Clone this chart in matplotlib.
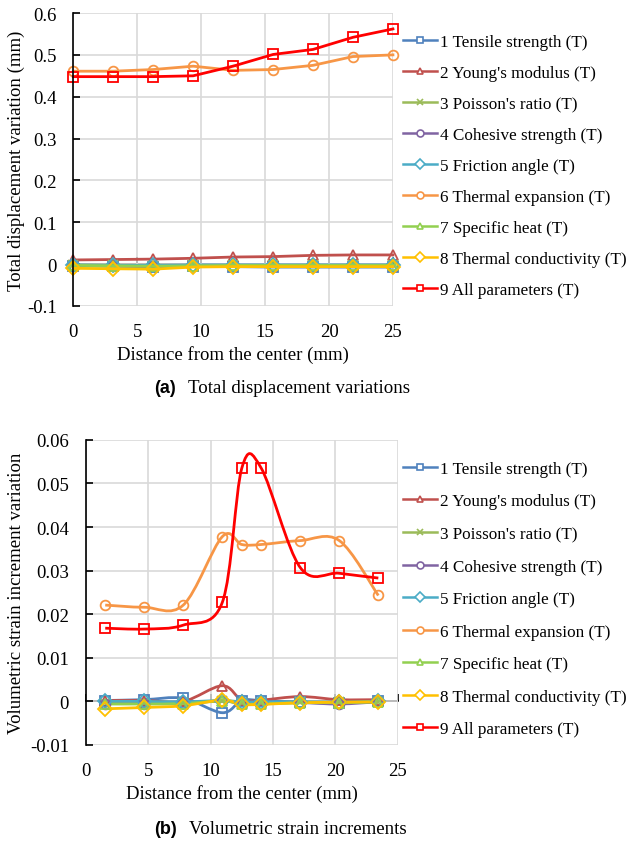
import numpy as np
import matplotlib
matplotlib.use("Agg")
import matplotlib.pyplot as plt
from matplotlib.path import Path
from matplotlib.patches import PathPatch
from matplotlib.lines import Line2D
import matplotlib.ticker as mtick

plt.rcParams["font.family"] = ["Liberation Serif", "DejaVu Serif"]
plt.rcParams["font.size"] = 13.5

LABELS = [
    "1 Tensile strength (T)",
    "2 Young's modulus (T)",
    "3 Poisson's ratio (T)",
    "4 Cohesive strength (T)",
    "5 Friction angle (T)",
    "6 Thermal expansion (T)",
    "7 Specific heat (T)",
    "8 Thermal conductivity (T)",
    "9 All parameters (T)",
]
COLORS = ["#4F81BD", "#C0504D", "#9BBB59", "#8064A2", "#4BACC6",
          "#F79646", "#92D050", "#FFC000", "#FF0000"]
MARKERS = ["s", "^", "x", "o", "D", "o", "^", "D", "s"]

# (a) total displacement variation (mm)
dist_a = [0, 3.125, 6.25, 9.375, 12.5, 15.625, 18.75, 21.875, 25]
disp = [
    [-0.004, -0.005, -0.006, -0.005, -0.006, -0.007, -0.007, -0.007, -0.007],
    [0.010, 0.011, 0.012, 0.014, 0.017, 0.018, 0.021, 0.022, 0.022],
    [-0.002, -0.003, -0.004, -0.003, -0.003, -0.003, -0.003, -0.003, -0.003],
    [-0.003, -0.004, -0.005, -0.004, -0.004, -0.004, -0.004, -0.004, -0.004],
    [-0.002, -0.003, -0.003, -0.002, -0.002, -0.002, -0.002, -0.002, -0.002],
    [0.461, 0.461, 0.465, 0.473, 0.463, 0.465, 0.475, 0.496, 0.500],
    [-0.003, -0.004, -0.005, -0.004, -0.003, -0.003, -0.003, -0.003, -0.003],
    [-0.010, -0.011, -0.012, -0.007, -0.006, -0.006, -0.006, -0.006, -0.006],
    [0.448, 0.448, 0.448, 0.450, 0.473, 0.501, 0.513, 0.542, 0.562],
]

# (b) volumetric strain increment variation
dist_b = [1.5625, 4.6875, 7.8125, 10.9375, 12.5, 14.0625, 17.1875, 20.3125, 23.4375]
strain = [
    [0.0002, 0.0004, 0.0007, -0.0026, 0.0002, 0.0002, -0.0002, -0.0004, 0.0000],
    [0.0002, 0.0002, 0.0000, 0.0036, 0.0003, 0.0003, 0.0011, 0.0004, 0.0004],
    [-0.0003, -0.0003, -0.0003, 0.0000, -0.0003, -0.0003, -0.0002, -0.0002, -0.0001],
    [-0.0005, -0.0005, -0.0004, 0.0001, -0.0005, -0.0005, -0.0003, -0.0006, -0.0001],
    [0.0000, 0.0000, -0.0001, 0.0002, -0.0001, -0.0001, -0.0001, -0.0002, 0.0000],
    [0.0221, 0.0216, 0.0221, 0.0378, 0.0360, 0.0360, 0.0369, 0.0369, 0.0243],
    [-0.0006, -0.0006, -0.0005, 0.0001, -0.0006, -0.0006, -0.0003, -0.0003, -0.0001],
    [-0.0017, -0.0014, -0.0010, 0.0003, -0.0007, -0.0007, -0.0003, -0.0002, -0.0001],
    [0.0168, 0.0166, 0.0175, 0.0227, 0.0535, 0.0535, 0.0307, 0.0294, 0.0283],
]


def smooth_path(x, y):
    # Catmull-Rom style bezier through every point
    pts = np.column_stack([x, y])
    n = len(pts)
    verts = [pts[0]]
    codes = [Path.MOVETO]
    for i in range(n - 1):
        p0 = pts[i - 1] if i > 0 else pts[i]
        p1 = pts[i]
        p2 = pts[i + 1]
        p3 = pts[i + 2] if i + 2 < n else pts[i + 1]
        c1 = p1 + (p2 - p0) / 6.0
        c2 = p2 - (p3 - p1) / 6.0
        verts += [c1, c2, p2]
        codes += [Path.CURVE4] * 3
    return Path(verts, codes)


def style_axes(ax, xlim, ylim, yticks, xlabel, ylabel, ylabel_x):
    ax.set_xlim(*xlim)
    ax.set_ylim(*ylim)
    ax.set_xticks(np.arange(0, 26, 5))
    ax.set_yticks(yticks)
    ax.yaxis.set_major_formatter(mtick.FormatStrFormatter("%g"))
    ax.grid(True, color="#d9d9d9", lw=1.2)
    ax.set_axisbelow(True)
    for s in ["top", "right", "bottom"]:
        ax.spines[s].set_visible(False)
    ax.spines["left"].set_color("black")
    ax.spines["left"].set_linewidth(1.2)
    ax.tick_params(axis="y", direction="in", length=5, width=1.2, pad=12)
    ax.tick_params(axis="x", length=0, pad=12)
    # horizontal axis line through zero
    frac = (0 - ylim[0]) / (ylim[1] - ylim[0])
    sec = ax.secondary_xaxis(frac)
    sec.set_xticks(np.arange(0, 26, 5))
    sec.set_xticklabels([])
    sec.spines["bottom"].set_color("black")
    sec.spines["bottom"].set_linewidth(1.2)
    sec.tick_params(direction="in", length=5, width=1.2)
    ax.set_xlabel(xlabel, labelpad=4)
    ax.set_ylabel(ylabel)
    ax.yaxis.set_label_coords(ylabel_x, 0.5)


def legend_handles():
    hs = []
    for lab, c, m in zip(LABELS, COLORS, MARKERS):
        hs.append(Line2D([], [], color=c, lw=1.8, marker=m, markersize=5,
                         markerfacecolor="white", markeredgecolor=c,
                         markeredgewidth=1.2, label=lab))
    return hs


fig = plt.figure(figsize=(6.28, 8.45), dpi=100)

ax1 = fig.add_axes([0.1167, 0.6367, 0.509, 0.3467])
for vals, c, m in zip(disp, COLORS, MARKERS):
    ax1.plot(dist_a, vals, color=c, lw=2, marker=m, markersize=7,
             markerfacecolor="none", markeredgecolor=c, markeredgewidth=1.3,
             clip_on=False)
style_axes(ax1, (0, 25), (-0.1, 0.6), np.arange(-0.1, 0.61, 0.1),
           "Distance from the center (mm)", "Total displacement variation (mm)",
           -0.151)
ax1.legend(handles=legend_handles(), loc="upper left", fontsize=12.3,
           bbox_to_anchor=(0.642, 0.9586), bbox_transform=fig.transFigure,
           frameon=False, borderpad=0, borderaxespad=0, labelspacing=0.88,
           handlelength=2.0, handletextpad=0.15)

ax2 = fig.add_axes([0.1365, 0.1172, 0.497, 0.361])
for vals, c, m in zip(strain, COLORS, MARKERS):
    ax2.add_patch(PathPatch(smooth_path(dist_b, vals), facecolor="none",
                            edgecolor=c, lw=2))
    ax2.plot(dist_b, vals, ls="none", marker=m, markersize=7,
             markerfacecolor="none", markeredgecolor=c, markeredgewidth=1.3)
style_axes(ax2, (0, 25), (-0.01, 0.06), np.arange(-0.01, 0.061, 0.01),
           "Distance from the center (mm)",
           "Volumetric strain increment variation", -0.195)
ax2.legend(handles=legend_handles(), loc="upper left", fontsize=12.3,
           bbox_to_anchor=(0.642, 0.4535), bbox_transform=fig.transFigure,
           frameon=False, borderpad=0, borderaxespad=0, labelspacing=0.97,
           handlelength=2.0, handletextpad=0.15)

# panel captions
fig.text(0.245, 0.5408, "(a)", family="Liberation Sans", weight="bold",
         fontsize=13, va="center")
fig.text(0.299, 0.5408, "Total displacement variations", fontsize=13.6,
         va="center")
fig.text(0.245, 0.0189, "(b)", family="Liberation Sans", weight="bold",
         fontsize=13, va="center")
fig.text(0.301, 0.0189, "Volumetric strain increments", fontsize=13.6,
         va="center")

fig.savefig("out.png", dpi=100)
